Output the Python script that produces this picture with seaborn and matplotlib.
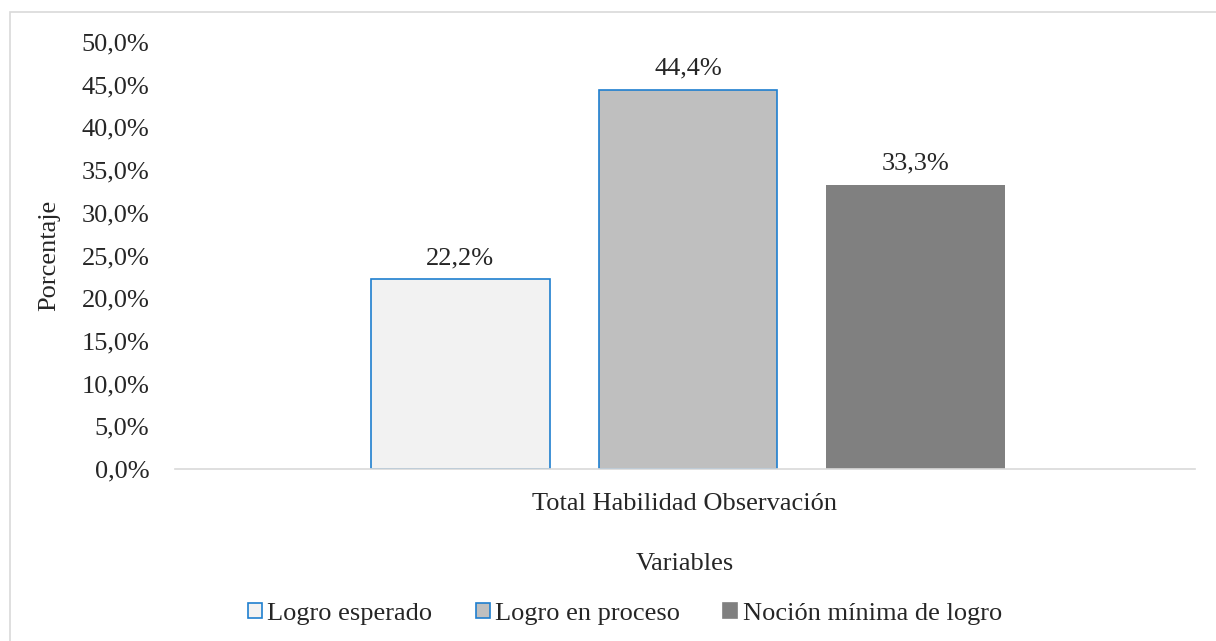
import matplotlib
matplotlib.use("Agg")
import matplotlib.pyplot as plt
import matplotlib.patches as mpatches
from matplotlib.ticker import FuncFormatter
import seaborn as sns
import pandas as pd

# data
categoria = ["Total Habilidad Observación"]
niveles = ["Logro esperado", "Logro en proceso", "Noción mínima de logro"]
valores = [22.2, 44.4, 33.3]
colores = ["#f2f2f2", "#bfbfbf", "#808080"]
bordes = ["#1f7fcf", "#1f7fcf", "#808080"]

df = pd.DataFrame({"Variables": categoria * len(niveles), "Nivel": niveles, "Porcentaje": valores})

sns.set_theme(style="white")
plt.rcParams["font.family"] = ["Liberation Serif", "DejaVu Serif"]
fs = 19

fig = plt.figure(figsize=(12.16, 6.41), dpi=100)
ax = fig.add_axes([175 / 1216, 1 - 469 / 641, 1020 / 1216, 427 / 641])

sns.barplot(data=df, x="Variables", y="Porcentaje", hue="Nivel", hue_order=niveles,
            palette=colores, width=0.67, gap=0.215, ax=ax, legend=False)

for bar, ec in zip(ax.patches, bordes):
    bar.set_edgecolor(ec)
    bar.set_linewidth(1.2 if ec != bordes[-1] else 0)
    bar.set_x(bar.get_x() + 0.003)

for bar, v in zip(ax.patches, valores):
    ax.text(bar.get_x() + bar.get_width() / 2, v + 1.2, f"{v:.1f}%".replace(".", ","),
            ha="center", va="bottom", fontsize=fs)

ax.set_ylim(0, 50)
ax.set_xlim(-0.5, 0.5)
ax.set_yticks(range(0, 51, 5))
ax.yaxis.set_major_formatter(FuncFormatter(lambda v, p: f"{v:.1f}%".replace(".", ",")))
ax.tick_params(axis="both", labelsize=fs, length=0)
ax.tick_params(axis="y", pad=18.5)
ax.tick_params(axis="x", pad=17)
ax.set_ylabel("Porcentaje", fontsize=fs, labelpad=15)
ax.set_xlabel("Variables", fontsize=fs, labelpad=28)

for s in ["top", "right", "left"]:
    ax.spines[s].set_visible(False)
ax.spines["bottom"].set_color("#d9d9d9")
ax.spines["bottom"].set_linewidth(1.2)

handles = [mpatches.Patch(facecolor=c, edgecolor=e, linewidth=1.2, label=n)
           for c, e, n in zip(colores, bordes, niveles)]
fig.legend(handles=handles, loc="center", bbox_to_anchor=(0.5 + 17 / 1216, 1 - 614 / 641), ncol=3,
           frameon=False, fontsize=fs, handlelength=0.53, handleheight=0.53,
           handletextpad=0.22, columnspacing=1.63)

# outer frame like the original chart area
fig.patches.append(mpatches.Rectangle((10 / 1216, -0.1), 1.2, 1 - 12 / 641 + 0.1,
                                      transform=fig.transFigure, fill=False,
                                      edgecolor="#d9d9d9", linewidth=1.2))

fig.savefig("out.png", dpi=100)
